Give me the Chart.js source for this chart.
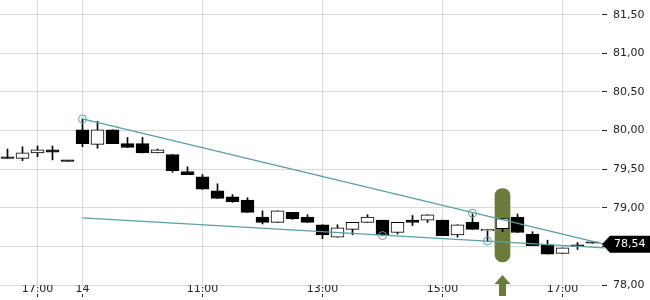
<!DOCTYPE html>
<html>
<head>
<meta charset="utf-8">
<script src="https://cdn.jsdelivr.net/npm/chart.js@4"></script>
<style>
  html, body { margin: 0; padding: 0; background: #fff; }
  #wrap { width: 650px; height: 300px; }
</style>
</head>
<body>
<div id="wrap"><canvas id="chart"></canvas></div>
<script>
// 15 minute candles, previous day close then the 14th
const times = ['16:30', '16:45', '17:00', '17:15', '17:30',
    '09:00', '09:15', '09:30', '09:45', '10:00', '10:15', '10:30', '10:45',
    '11:00', '11:15', '11:30', '11:45', '12:00', '12:15', '12:30', '12:45',
    '13:00', '13:15', '13:30', '13:45', '14:00', '14:15', '14:30', '14:45',
    '15:00', '15:15', '15:30', '15:45', '16:00', '16:15', '16:30', '16:45',
    '17:00', '17:15', '17:30'];
const opens  = [79.65, 79.64, 79.71, 79.75, 79.60, 80.01, 79.82, 80.01, 79.83, 79.83,
    79.71, 79.69, 79.47, 79.40, 79.22, 79.14, 79.10, 78.88, 78.81, 78.94,
    78.88, 78.78, 78.62, 78.72, 78.81, 78.84, 78.68, 78.84, 78.84, 78.84,
    78.65, 78.81, 78.70, 78.73, 78.88, 78.66, 78.52, 78.41, 78.52, 78.54];
const highs  = [79.76, 79.79, 79.80, 79.80, 79.60, 80.15, 80.12, 80.01, 79.91, 79.91,
    79.76, 79.69, 79.53, 79.43, 79.31, 79.17, 79.13, 78.96, 78.96, 78.94,
    78.91, 78.78, 78.78, 78.81, 78.91, 78.84, 78.81, 78.90, 78.91, 78.84,
    78.78, 78.92, 78.72, 78.86, 78.92, 78.69, 78.58, 78.48, 78.55, 78.54];
const lows   = [79.64, 79.61, 79.66, 79.62, 79.60, 79.79, 79.77, 79.83, 79.78, 79.71,
    79.71, 79.46, 79.43, 79.24, 79.12, 79.07, 78.94, 78.79, 78.81, 78.85,
    78.81, 78.60, 78.62, 78.65, 78.81, 78.64, 78.66, 78.77, 78.81, 78.64,
    78.62, 78.72, 78.56, 78.69, 78.68, 78.51, 78.40, 78.41, 78.46, 78.54];
const closes = [79.64, 79.71, 79.75, 79.72, 79.60, 79.83, 80.01, 79.83, 79.78, 79.71,
    79.75, 79.48, 79.43, 79.24, 79.12, 79.08, 78.94, 78.81, 78.96, 78.86,
    78.81, 78.65, 78.74, 78.81, 78.88, 78.65, 78.81, 78.81, 78.91, 78.64,
    78.78, 78.72, 78.72, 78.86, 78.68, 78.51, 78.40, 78.48, 78.50, 78.54];

const tickIdx = [2, 5, 13, 21, 29, 37];
const tickLabels = ['17:00', '14', '11:00', '13:00', '15:00', '17:00'];

// trend lines (candle index, price)
const upperTrend = [[5, 80.15], [39.78, 78.53]];
const lowerTrend = [[5, 78.87], [39.78, 78.48]];
const touchPoints = [[5, 80.15], [25, 78.64], [31, 78.93], [32, 78.57]];

// signal marker
const signalIdx = 33;
const signalRange = [78.30, 79.25];

const lastPrice = closes[closes.length - 1];
const teal = '#5b9fa3';
const olive = '#6a7b3a';
const fmt = v => v.toFixed(2).replace('.', ',');

const wicks = times.map((t, i) => ({ x: i, y: [lows[i], highs[i]] }));
const bodies = times.map((t, i) => ({ x: i, y: [Math.min(opens[i], closes[i]), Math.max(opens[i], closes[i])] }));
const bodyColors = times.map((t, i) => closes[i] > opens[i] ? '#fff' : '#000');

const extras = {
    id: 'extras',
    afterDraw(chart) {
        const ctx = chart.ctx;
        const xs = chart.scales.x, ys = chart.scales.y;
        // arrow under the signal
        const ax = xs.getPixelForValue(signalIdx);
        ctx.save();
        ctx.fillStyle = olive;
        ctx.beginPath();
        ctx.moveTo(ax, 275);
        ctx.lineTo(ax + 8, 284);
        ctx.lineTo(ax - 8, 284);
        ctx.closePath();
        ctx.fill();
        ctx.fillRect(ax - 3.5, 283.5, 7, 12.5);
        // last price tag
        const py = ys.getPixelForValue(lastPrice) + 1;
        ctx.fillStyle = '#000';
        ctx.beginPath();
        ctx.moveTo(602, py);
        ctx.lineTo(610, py - 8.5);
        ctx.lineTo(650, py - 8.5);
        ctx.lineTo(650, py + 8.5);
        ctx.lineTo(610, py + 8.5);
        ctx.closePath();
        ctx.fill();
        ctx.fillStyle = '#fff';
        ctx.font = '11px "DejaVu Sans"';
        ctx.textBaseline = 'middle';
        ctx.fillText(fmt(lastPrice), 614, py);
        ctx.restore();
    }
};

Chart.defaults.font.family = '"DejaVu Sans", sans-serif';
Chart.defaults.font.size = 11;

new Chart(document.getElementById('chart'), {
    type: 'bar',
    data: {
        datasets: [
            {
                data: [{ x: signalIdx, y: signalRange }],
                backgroundColor: olive,
                barThickness: 15,
                borderRadius: 8,
                borderSkipped: false,
                grouped: false,
                order: 10
            },
            {
                data: wicks,
                backgroundColor: '#000',
                barThickness: 1,
                grouped: false,
                order: 5
            },
            {
                data: bodies,
                backgroundColor: bodyColors,
                borderColor: '#000',
                borderWidth: 1,
                borderSkipped: false,
                barThickness: 13,
                minBarLength: 1.5,
                grouped: false,
                order: 4
            },
            {
                type: 'line',
                data: upperTrend.map(p => ({ x: p[0], y: p[1] })),
                borderColor: teal,
                borderWidth: 1.2,
                pointRadius: 0,
                clip: false,
                order: 2
            },
            {
                type: 'line',
                data: lowerTrend.map(p => ({ x: p[0], y: p[1] })),
                borderColor: teal,
                borderWidth: 1.2,
                pointRadius: 0,
                clip: false,
                order: 2
            },
            {
                type: 'scatter',
                data: touchPoints.map(p => ({ x: p[0], y: p[1] })),
                borderColor: teal,
                backgroundColor: 'rgba(0,0,0,0)',
                borderWidth: 1,
                pointRadius: 4,
                order: 1
            }
        ]
    },
    options: {
        responsive: true,
        maintainAspectRatio: false,
        animation: false,
        layout: { padding: 0, autoPadding: false },
        plugins: { legend: { display: false }, tooltip: { enabled: false } },
        scales: {
            x: {
                type: 'linear',
                min: -0.5,
                max: 39.5,
                offset: false,
                afterBuildTicks: s => { s.ticks = tickIdx.map(v => ({ value: v })); },
                afterFit: s => { s.height = 15; s.paddingLeft = 0; s.paddingRight = 0; },
                grid: {
                    color: '#dadada',
                    offset: false,
                    tickLength: 12,
                    tickColor: '#222',
                    tickBorderDash: [3, 9],
                    tickBorderDashOffset: 3
                },
                border: { display: false },
                ticks: {
                    autoSkip: false,
                    maxRotation: 0,
                    padding: -14,
                    color: '#222',
                    callback: (v, i) => tickLabels[i]
                }
            },
            y: {
                position: 'right',
                min: 78,
                max: 81.69,
                afterFit: s => { s.width = 50; s.paddingTop = 0; s.paddingBottom = 0; },
                grid: {
                    color: '#dadada',
                    tickLength: 7,
                    tickColor: '#222',
                    tickBorderDash: [5, 2],
                    tickBorderDashOffset: 5
                },
                border: { display: false },
                ticks: {
                    stepSize: 0.5,
                    includeBounds: false,
                    padding: 6,
                    color: '#222',
                    callback: v => fmt(v)
                }
            }
        }
    },
    plugins: [extras]
});
</script>
</body>
</html>
